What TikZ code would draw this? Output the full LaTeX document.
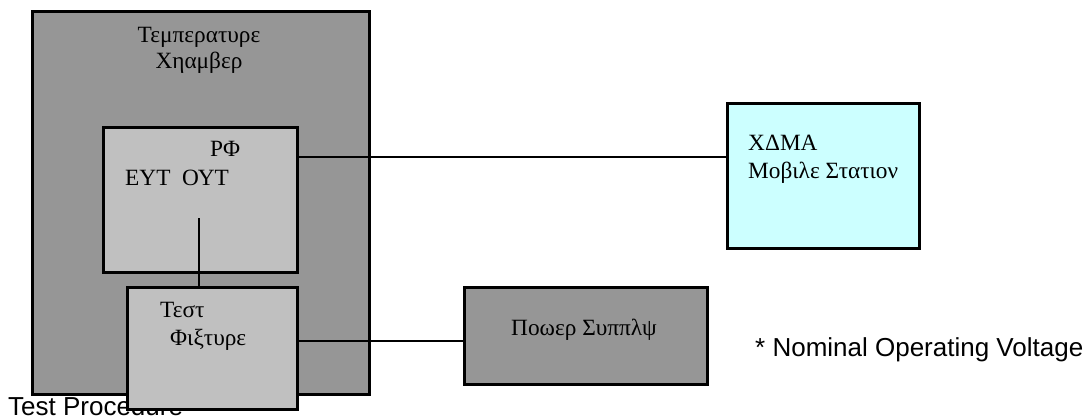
\documentclass[tikz,border=0pt]{standalone}
\usepackage{fontspec}
\setmainfont{Liberation Serif}
\newfontfamily\arialfont{Liberation Sans}
\usetikzlibrary{calc}

\definecolor{chambergray}{HTML}{969696}
\definecolor{eutgray}{HTML}{C0C0C0}
\definecolor{mscyan}{HTML}{CCFFFF}

\tikzset{
  box/.style={draw=black, line width=2.6pt, inner sep=0pt, anchor=north west},
  greektext/.style={anchor=base west, inner sep=0pt, font=\fontsize{23.3}{28}\selectfont},
  plaintext/.style={anchor=base west, inner sep=0pt, font=\arialfont\fontsize{26}{31}\selectfont},
  wire/.style={line width=2pt}
}

\begin{document}
\begin{tikzpicture}[x=1pt, y=-1pt]
		\useasboundingbox (0, 0) rectangle (1092, 416);

		% temperature chamber
		\node[box, fill=chambergray, minimum width=337pt, minimum height=383pt] (chamber) at (31, 10) {};
		\node[greektext, anchor=base] (chambertop) at (199, 42) {Τεμπερατυρε};
		\node[greektext, anchor=base] (chamberbot) at (199, 68) {Χηαμβερ};

		% equipment under test
		\node[box, fill=eutgray, minimum width=194pt, minimum height=145pt] (eut) at (102, 126) {};
		\node[greektext] (rf) at (210, 156) {ΡΦ};
		\node[greektext] (eutout) at (125, 185) {ΕΥΤ\ \ ΟΥΤ};
		\coordinate (eutport) at (199, 218);

		% mobile station
		\node[box, fill=mscyan, minimum width=192pt, minimum height=145pt] (mobile) at (726, 102) {};
		\node[greektext] (cdma) at (748, 150) {ΧΔΜΑ};
		\node[greektext] (station) at (748, 178) {Μοβιλε Στατιον};

		% power supply
		\node[box, fill=chambergray, minimum width=243pt, minimum height=97pt] (power) at (463, 286) {};
		\node[greektext, anchor=base] (supply) at (584, 335) {Ποωερ Συππλψ};

		\node[plaintext] (voltage) at (755, 356) {* Nominal Operating Voltage};
		\node[plaintext] (procedure) at (8, 415) {Test Procedure};

		% test fixture
		\node[box, fill=eutgray, minimum width=170pt, minimum height=122pt] (fixture) at (126, 286) {};
		\node[greektext] (test) at (160, 317) {Τεστ};
		\node[greektext] (fixt) at (170, 345) {Φιξτυρε};

		% wiring
		\draw[wire] (eut.east |- 0, 157) -- (mobile.west |- 0, 157);
		\draw[wire] (eutport) -- (eutport |- fixture.north);
		\draw[wire] (fixture.east |- 0, 340.5) -- (power.west |- 0, 340.5);
	\end{tikzpicture}
\end{document}
